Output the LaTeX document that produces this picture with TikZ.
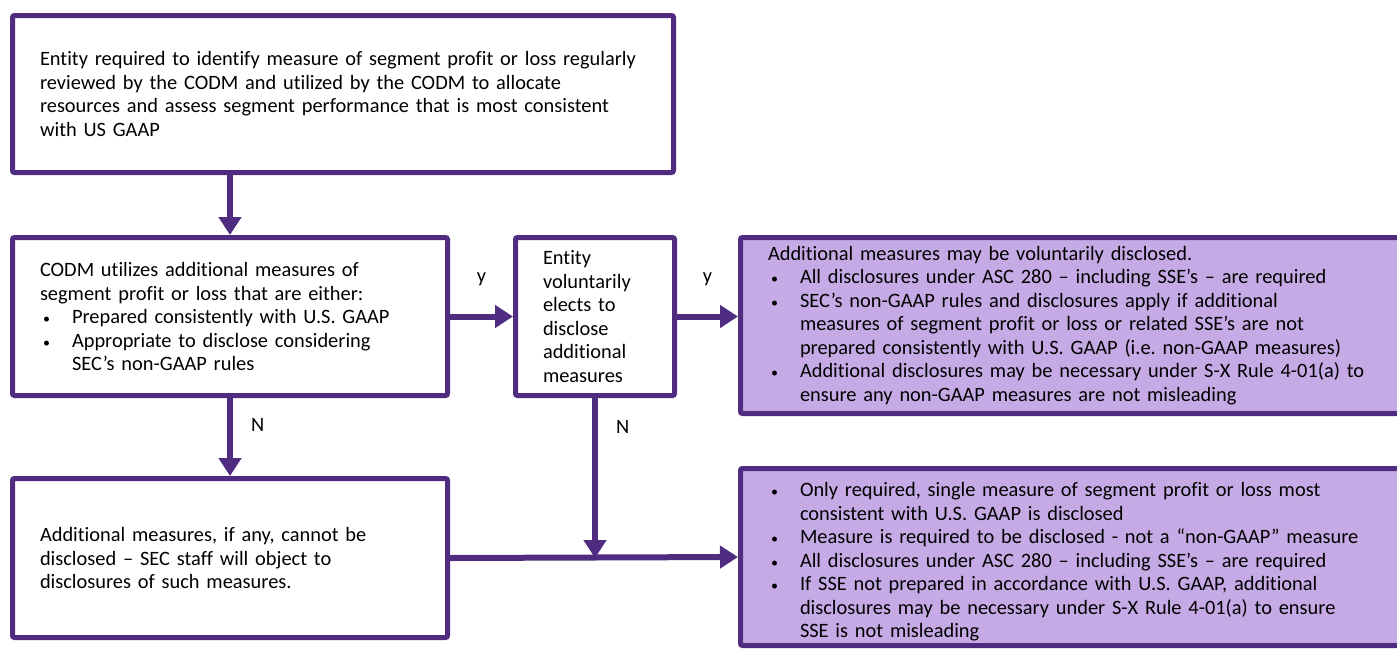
\documentclass[tikz,border=0pt]{standalone}
\usepackage{fontspec}
\setmainfont{Carlito}[Ligatures=NoCommon]
\usetikzlibrary{arrows.meta, positioning}

\definecolor{kpurple}{RGB}{80,44,128}
\definecolor{klilac}{RGB}{198,170,230}
\setlength{\parindent}{0pt}
\frenchspacing
\newcommand{\bodyfont}{\fontsize{20.4}{23.5}\selectfont}
\newcommand{\bitem}{\par\noindent\hangindent=32pt\hangafter=1\makebox[32pt][l]{\hspace{3pt}\fontsize{14}{14}\selectfont\textbullet}}

\begin{document}
\begin{tikzpicture}[x=1pt, y=-1pt]
    \tikzset{
      box/.style={draw=kpurple, line width=5pt, rounded corners=2pt, fill=white,
        anchor=north west, align=left, inner xsep=27.5pt, inner ysep=0pt, font=\bodyfont}, % every box of the chart
      note/.style={box, fill=klilac}, % the outcome boxes on the right
      flow/.style={draw=kpurple, line width=6pt, -{Triangle[length=18pt, width=22pt]}}, % thick arrows
      tag/.style={font=\bodyfont, inner sep=0pt}, % the y / N answers
    }
    \path[use as bounding box, clip] (0,0) rectangle (1397,648);

    \node[box, minimum width=661pt, minimum height=157pt, text width=606pt] (req) at (10,13)
      {Entity required to identify measure of segment profit or loss regularly\newline
       reviewed by the CODM and utilized by the CODM to allocate\newline
       resources and assess segment performance that is most consistent\newline
       with US GAAP};
    \node[box, minimum width=435pt, minimum height=158pt, text width=380pt] (codm) at (10,235)
      {CODM utilizes additional measures of\newline
       segment profit or loss that are either:
       \bitem Prepared consistently with U.S. GAAP
       \bitem Appropriate to disclose considering\newline SEC’s non-GAAP rules\par};
    \node[box, minimum width=159pt, minimum height=158pt, text width=104pt] (elect) at (513,235)
      {Entity\newline voluntarily\newline elects to\newline disclose\newline additional\newline measures};
    \node[note, minimum width=700pt, minimum height=176pt, text width=645pt] (vol) at (738,235)
      {Additional measures may be voluntarily disclosed.
       \bitem All disclosures under ASC 280 – including SSE’s – are required
       \bitem SEC’s non-GAAP rules and disclosures apply if additional\newline
         measures of segment profit or loss or related SSE’s are not\newline
         prepared consistently with U.S. GAAP (i.e. non-GAAP measures)
       \bitem Additional disclosures may be necessary under S-X Rule 4-01(a) to\newline
         ensure any non-GAAP measures are not misleading\par};
    \node[box, minimum width=435pt, minimum height=159pt, text width=380pt] (nodisc) at (10,476)
      {Additional measures, if any, cannot be\newline
       disclosed – SEC staff will object to\newline
       disclosures of such measures.};
    \node[note, minimum width=700pt, minimum height=177pt, text width=645pt] (only) at (738,466)
      {\bitem Only required, single measure of segment profit or loss most\newline
         consistent with U.S. GAAP is disclosed
       \bitem Measure is required to be disclosed - not a “non-GAAP” measure
       \bitem All disclosures under ASC 280 – including SSE’s – are required
       \bitem If SSE not prepared in accordance with U.S. GAAP, additional\newline
         disclosures may be necessary under S-X Rule 4-01(a) to ensure\newline
         SSE is not misleading\par};

    \coordinate (join) at (elect.south |- nodisc.east);

    \draw[flow] (req.south -| codm.north) -- (codm.north);
    \draw[flow] (codm.east) -- node[tag, above=28pt] {y} (elect.west);
    \draw[flow] (elect.east) -- node[tag, above=28pt] {y} (elect.east -| vol.west);
    \draw[flow] (codm.south) -- node[tag, pos=0.35, right=18pt] {N} (nodisc.north);
    \draw[flow] (elect.south) -- node[tag, pos=0.18, right=18pt] {N} (join);
    \draw[flow] (nodisc.east) -- (only.west);
\end{tikzpicture}
\end{document}
